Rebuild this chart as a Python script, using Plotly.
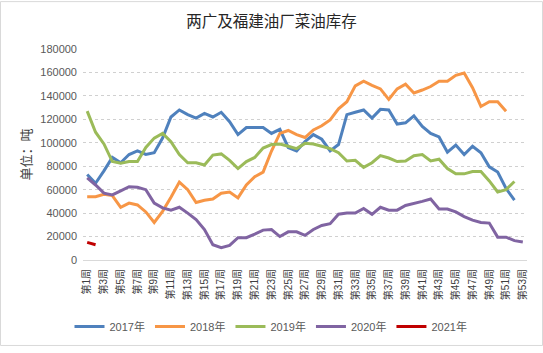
import plotly.graph_objects as go

weeks = [f"第{i}周" for i in range(1, 54)]

y2017 = [73000, 65500, 76000, 87500, 83000, 90000, 93000, 90000, 91500, 104000,
         122000, 128000, 124000, 121000, 125000, 122000, 126000, 118000, 107000, 113000,
         113000, 113000, 108000, 111500, 96000, 93000, 101000, 107000, 103000, 93000,
         98500, 124000, 126000, 128000, 121000, 128500, 128000, 116000, 117000, 123000,
         114000, 108000, 105000, 92000, 98000, 90000, 97000, 91500, 79500, 75000,
         61000, 51000]
y2018 = [54000, 54000, 56000, 55000, 45000, 48500, 47000, 41000, 32000, 41500,
         53500, 66500, 60000, 49000, 51000, 52000, 57000, 58000, 53000, 64000,
         71000, 75000, 93000, 108000, 110500, 107000, 104500, 111000, 114500, 119500,
         129000, 135000, 148500, 152500, 149000, 146000, 137000, 146000, 150000, 142500,
         145000, 148000, 152500, 152500, 157500, 159500, 147000, 131000, 135000, 135000,
         127000]
y2019 = [127000, 109000, 99000, 84000, 82500, 84000, 84000, 96000, 104000, 108000,
         101000, 90000, 83000, 83000, 81000, 89500, 90500, 85000, 78000, 84000,
         87500, 95500, 98500, 99000, 97000, 95000, 99500, 99000, 97000, 95000,
         91500, 84500, 85000, 79000, 83000, 89000, 87000, 84000, 84500, 89000,
         90000, 84500, 86000, 78000, 73500, 73500, 75500, 75500, 67500, 58000,
         60000, 67000]
y2020 = [70000, 64000, 57000, 55500, 59000, 62500, 62000, 60000, 48500, 44500,
         42500, 45000, 40000, 34500, 26000, 13000, 10500, 12500, 19000, 19000,
         22000, 25500, 26000, 20000, 24000, 24000, 21000, 26000, 29500, 31000,
         39000, 40000, 40000, 44000, 39000, 45000, 42500, 42500, 46500, 48000,
         50000, 52000, 43500, 43500, 41000, 37000, 34000, 32000, 31500, 19500,
         19500, 16500, 15300]
y2021 = [15000, 13000]

series = [
    ("2017年", y2017, "#4F81BD"),
    ("2018年", y2018, "#F79646"),
    ("2019年", y2019, "#9BBB59"),
    ("2020年", y2020, "#8064A2"),
    ("2021年", y2021, "#C00000"),
]

FONT = "Liberation Sans, Arial, Noto Sans CJK SC, sans-serif"

fig = go.Figure()
for name, vals, color in series:
    fig.add_trace(go.Scatter(
        x=weeks[:len(vals)], y=vals, name=name, mode="lines",
        line=dict(color=color, width=3),
    ))

W, H = 543, 353
L, R, T, B = 83, 16, 49, 88
pw, ph = W - L - R, H - T - B

def px_x(x):
    return (x - L) / pw

def px_y(y):
    return (H - B - y) / ph

fig.update_layout(
    width=W, height=H,
    margin=dict(l=L, r=R, t=T, b=B),
    paper_bgcolor="white", plot_bgcolor="white",
    font=dict(family=FONT, color="#595959", size=11),
    title=dict(text="两广及福建油厂菜油库存", x=0.5, xanchor="center",
               y=1 - 22 / H, yanchor="middle",
               font=dict(size=15.5, color="#262626", family="Noto Sans CJK SC, sans-serif")),
    xaxis=dict(
        type="category", categoryorder="array", categoryarray=weeks,
        range=[-0.5, 52.5],
        tickmode="array", tickvals=weeks[::2], ticktext=weeks[::2],
        tickangle=-90, tickfont=dict(size=10, color="#404040",
                                     family="Liberation Sans, Noto Sans CJK SC, sans-serif"),
        showgrid=False, showline=True, linecolor="#D9D9D9", linewidth=1,
        ticks="", ticklabelstandoff=4, zeroline=False,
    ),
    yaxis=dict(
        range=[0, 180000], tickmode="linear", tick0=0, dtick=20000,
        tickformat="d", showgrid=True, gridcolor="#D0D0D0", griddash="dot",
        gridwidth=1, zeroline=False, showline=False, ticks="",
        ticklabelstandoff=5, tickfont=dict(size=11, color="#595959"),
    ),
    legend=dict(
        orientation="h", x=px_x(271), xanchor="center",
        y=px_y(333), yanchor="middle",
        font=dict(size=11, color="#595959"),
        itemwidth=30, tracegroupgap=0,
    ),
    showlegend=True,
    annotations=[dict(
        text="单位：吨", xref="paper", yref="paper",
        x=px_x(25), y=px_y(157), xanchor="center", yanchor="middle",
        textangle=-90, showarrow=False,
        font=dict(size=13, color="#404040", family="Noto Sans CJK SC, sans-serif"),
    )],
    shapes=[dict(
        type="rect", xref="paper", yref="paper",
        x0=px_x(0.5), x1=px_x(542.5), y0=px_y(352.5), y1=px_y(0.5),
        line=dict(color="#D9D9D9", width=1), layer="below",
    )],
)

fig.write_html("out.html")
